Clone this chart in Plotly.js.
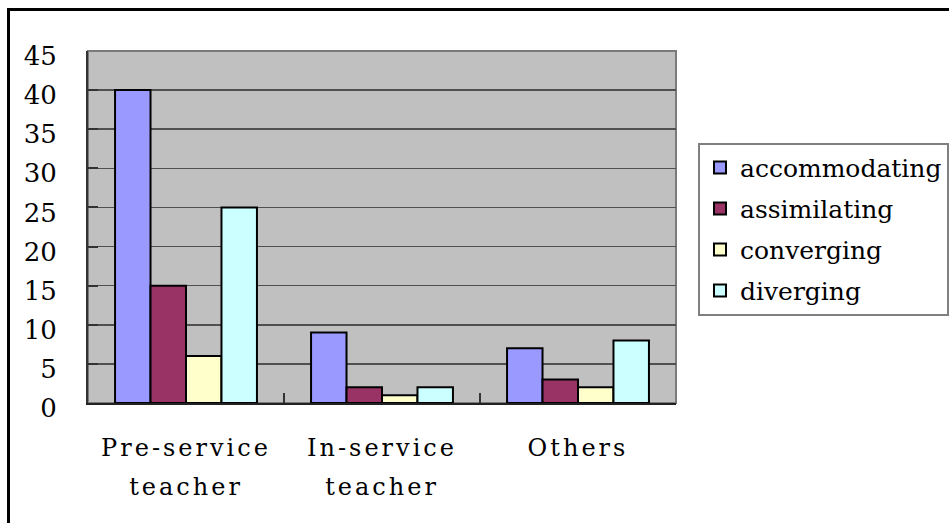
<!DOCTYPE html>
<html><head><meta charset="utf-8">
<script src="https://cdn.plot.ly/plotly-3.0.1.min.js"></script>
<style>
html,body{margin:0;padding:0;background:#fff;overflow:hidden;}
#chart{position:absolute;left:0;top:0;width:949px;height:523px;}
#frame{position:absolute;left:7px;top:8px;width:2000px;height:2000px;border:3px solid #000;pointer-events:none;}
#chart .xtick text, #chart .x3tick text{letter-spacing:3px;}
</style></head>
<body>
<div id="chart"></div>
<div id="frame"></div>
<script>
const categoryLine1 = ["Pre-service", "In-service", "Others"];
const categoryLine2 = ["teacher", "teacher", ""];
const seriesNames = ["accommodating", "assimilating", "converging", "diverging"];
const accommodating = [40, 9, 7];
const assimilating = [15, 2, 3];
const converging = [6, 1, 2];
const diverging = [25, 2, 8];
const seriesValues = [accommodating, assimilating, converging, diverging];
const seriesColors = ["#9999FF", "#993366", "#FFFFCC", "#CCFFFF"];
const yTicks = [0, 5, 10, 15, 20, 25, 30, 35, 40, 45];
const catIdx = [0, 1, 2];

const labelFont = {family: "DejaVu Serif, serif", size: 24, color: "#000"};
const legendFont = {family: "DejaVu Serif, serif", size: 25, color: "#000"};
const numFont = {family: "DejaVu Serif, serif", size: 26, color: "#000"};

const traces = seriesNames.map((n, i) => ({
  type: "bar", name: n, x: catIdx, y: seriesValues[i],
  legendgroup: "g" + i,
  marker: {color: seriesColors[i], line: {color: "#000", width: 2}},
  hoverinfo: "skip"
}));
// overlay helper traces: category-boundary tick marks and second label line
traces.push({type: "scatter", x: [-0.5, 2.5], y: [0, 0], xaxis: "x2", mode: "none", showlegend: false, hoverinfo: "skip"});
traces.push({type: "scatter", x: [-0.5, 2.5], y: [0, 0], xaxis: "x3", mode: "none", showlegend: false, hoverinfo: "skip"});

const layout = {
  width: 949, height: 523,
  margin: {l: 88, r: 273, t: 51, b: 120},
  paper_bgcolor: "rgba(0,0,0,0)",
  plot_bgcolor: "#C0C0C0",
  barmode: "group", bargap: 0.276, bargroupgap: 0,
  showlegend: true,
  legend: {
    xref: "container", yref: "container",
    x: 0.7355, xanchor: "left", y: 0.727, yanchor: "top",
    bordercolor: "#808080", borderwidth: 2, bgcolor: "#fff",
    font: legendFont, tracegroupgap: 5.5, traceorder: "grouped"
  },
  xaxis: {
    range: [-0.5, 2.5], tickmode: "array", tickvals: catIdx, ticktext: categoryLine1,
    ticks: "", tickfont: labelFont, ticklabelstandoff: 22,
    showgrid: false, zeroline: false,
    showline: true, linecolor: "#222", linewidth: 2
  },
  xaxis2: {
    overlaying: "x", range: [-0.5, 2.5], tickmode: "array", tickvals: [-0.5, 0.5, 1.5, 2.5],
    ticks: "inside", ticklen: 10, tickwidth: 1.5, tickcolor: "#333",
    showticklabels: false, showgrid: false, zeroline: false, showline: false
  },
  xaxis3: {
    overlaying: "x", range: [-0.5, 2.5], tickmode: "array", tickvals: catIdx, ticktext: categoryLine2,
    ticks: "", tickfont: labelFont, ticklabelstandoff: 67,
    showgrid: false, zeroline: false, showline: false
  },
  yaxis: {
    range: [0, 45], tickmode: "array", tickvals: yTicks,
    ticks: "inside", ticklen: 10, tickwidth: 2, tickcolor: "#333",
    tickfont: numFont, ticklabelstandoff: 24, ticklabelshift: 5,
    showgrid: true, gridcolor: "#505050", gridwidth: 1.5,
    zeroline: false, showline: true, linecolor: "#333", linewidth: 2
  },
  shapes: [{type: "rect", xref: "paper", yref: "paper", x0: 0, x1: 1, y0: 0, y1: 1,
            line: {color: "#7a7a7a", width: 2}, layer: "below"}]
};

Plotly.newPlot("chart", traces, layout, {staticPlot: true});
</script>
</body></html>
